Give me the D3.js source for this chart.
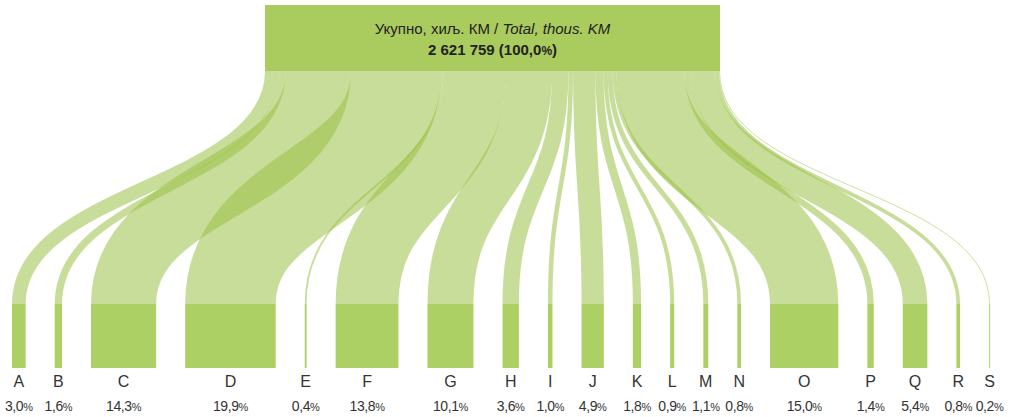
<!DOCTYPE html>
<html>
<head>
<meta charset="utf-8">
<script src="https://cdn.jsdelivr.net/npm/d3@7"></script>
<style>
	body { margin: 0; background: #fff; }
	svg { display: block; }
	text { font-family: "Liberation Sans Narrow", "Liberation Sans", Arial, sans-serif; fill: #222; }
</style>
</head>
<body>
<div id="chart"></div>
<script>

// categories and share of total (%)
var cats = ["A", "B", "C", "D", "E", "F", "G", "H", "I", "J", "K", "L", "M", "N", "O", "P", "Q", "R", "S"];
var shares = [3.0, 1.6, 14.3, 19.9, 0.4, 13.8, 10.1, 3.6, 1.0, 4.9, 1.8, 0.9, 1.1, 0.8, 15.0, 1.4, 5.4, 0.8, 0.2];
var total = 2621759;		// thous. KM
var titleSr = "Укупно, хиљ. КМ / ";
var titleEn = "Total, thous. KM";

var W = 1013, H = 417;

var box = { x0: 265, x1: 720, y0: 5, y1: 71 },
	barTop = 304, barBot = 368,
	left = 12, right = 990;

var fmtPct = d => d3.format(".1f")(d).replace(".", ",");
var loc = d3.formatLocale({ decimal: ",", thousands: " ", grouping: [3], currency: ["", ""] });

var svg = d3.select("#chart").append("svg")
	.attr("width", W)
	.attr("height", H);

// width scale: share -> px (100% = top box width)
var w = d3.scaleLinear().domain([0, 100]).range([0, box.x1 - box.x0]);

// source stacking along the box bottom
var nodes = [];
var acc = 0;
cats.forEach( (c, i) => {
	nodes.push({ cat: c, val: shares[i], s0: acc, s1: acc + shares[i] });
	acc += shares[i];
});

// targets: bars laid out left to right, equal gaps
var gap = ((right - left) - w(d3.sum(shares))) / (cats.length - 1);
var tx = left;
nodes.forEach( n => {
	n.t0 = tx;
	n.tw = w(n.val);
	tx += n.tw + gap;
});

var src = d3.scaleLinear().domain([0, 100]).range([box.x0, box.x1]);

var link = d3.linkVertical();

// flows
svg.append("g")
	.selectAll("path")
	.data(nodes)
	.join("path")
		.attr("d", d => link({
			source: [ (src(d.s0) + src(d.s1)) / 2, box.y1 ],
			target: [ d.t0 + d.tw / 2, barTop ]
		}))
		.attr("fill", "none")
		.attr("stroke", "rgb(155,193,70)")
		.attr("stroke-opacity", 0.55)
		.attr("stroke-width", d => Math.max(w(d.val), 0.8));

// top box
svg.append("rect")
	.attr("x", box.x0)
	.attr("y", box.y0)
	.attr("width", box.x1 - box.x0)
	.attr("height", box.y1 - box.y0)
	.attr("fill", "#aacb5e");

var t1 = svg.append("text")
	.attr("x", (box.x0 + box.x1) / 2)
	.attr("y", 34)
	.attr("text-anchor", "middle")
	.style("font-size", "15px");
t1.append("tspan").text(titleSr);
t1.append("tspan").style("font-style", "italic").text(titleEn);

var t2 = svg.append("text")
	.attr("x", (box.x0 + box.x1) / 2)
	.attr("y", 55)
	.attr("text-anchor", "middle")
	.style("font-size", "15px")
	.style("font-weight", "bold");
t2.append("tspan").text(loc.format(",d")(total) + " (" + fmtPct(100));
t2.append("tspan").style("font-size", "12px").text("%");
t2.append("tspan").text(")");

// bars
svg.append("g")
	.selectAll("rect")
	.data(nodes)
	.join("rect")
		.attr("x", d => d.t0)
		.attr("y", barTop)
		.attr("width", d => Math.max(d.tw, 1))
		.attr("height", barBot - barTop)
		.attr("fill", "#add065");

// letters
svg.append("g")
	.selectAll("text")
	.data(nodes)
	.join("text")
		.attr("x", d => d.t0 + d.tw / 2)
		.attr("y", 387)
		.attr("text-anchor", "middle")
		.style("font-size", "16px")
		.style("fill", "#333")
		.text(d => d.cat);

// percentages
var pl = svg.append("g")
	.selectAll("text")
	.data(nodes)
	.join("text")
		.attr("x", d => d.t0 + d.tw / 2)
		.attr("y", 411)
		.attr("text-anchor", "middle")
		.style("font-size", "14px")
		.style("letter-spacing", "-0.4px")
		.style("fill", "#333");
pl.append("tspan").text(d => fmtPct(d.val));
pl.append("tspan").style("font-size", "11px").text("%");

</script>
</body>
</html>
